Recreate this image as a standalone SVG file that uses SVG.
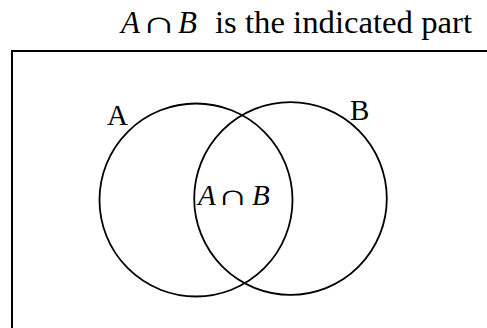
<svg xmlns="http://www.w3.org/2000/svg" width="487" height="328" viewBox="0 0 487 328">
<style>
text{font-family:"Liberation Serif","Times New Roman",serif;fill:#000}
.t{font-size:31px}
.l{font-size:29px}
.it{font-style:italic}
.c{fill:none;stroke:#000;stroke-width:1.8}
</style>
<rect width="487" height="328" fill="#fff"/>
<g id="title"><text class="t" y="33"><tspan class="it" x="121">A</tspan><tspan class="it" x="178">B</tspan><tspan x="215" textLength="257" lengthAdjust="spacingAndGlyphs">is the indicated part</tspan></text><text class="t" transform="translate(141,33) scale(1.6,1)">∩</text></g>
<g id="universe"><rect x="12" y="51" width="520" height="320" fill="none" stroke="#000" stroke-width="2"/></g>
<g id="setA"><circle class="c" cx="196" cy="200" r="96.5"/><text class="l" x="107" y="125">A</text></g>
<g id="setB"><circle class="c" cx="290.5" cy="198.5" r="96.3"/><text class="l" x="350" y="120">B</text></g>
<g id="intersection"><text class="l" y="205"><tspan class="it" x="198">A</tspan><tspan class="it" x="252">B</tspan></text><text class="l" transform="translate(217,205) scale(1.5,1)">∩</text></g>
<g id="connectors"/>
</svg>
